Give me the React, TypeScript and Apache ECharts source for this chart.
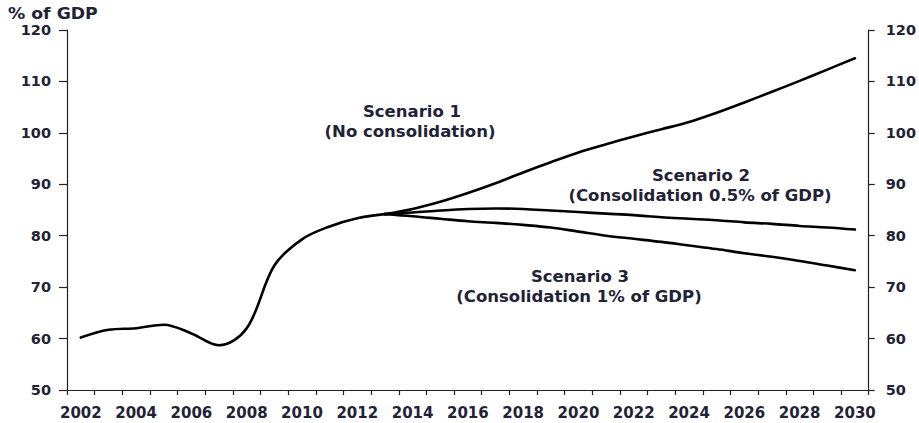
import React, { useEffect, useRef } from 'react';
import * as echarts from 'echarts';

const years = [
  '2002', '2003', '2004', '2005', '2006', '2007', '2008', '2009', '2010', '2011',
  '2012', '2013', '2014', '2015', '2016', '2017', '2018', '2019', '2020', '2021',
  '2022', '2023', '2024', '2025', '2026', '2027', '2028', '2029', '2030',
];

// 2002 - 2013
const historical = [60.2, 61.7, 62.0, 62.7, 61.0, 58.7, 62.0, 74.2, 79.3, 81.8, 83.4, 84.2];
// 2013 - 2030
const scenario1 = [84.2, 85.2, 86.6, 88.3, 90.2, 92.3, 94.3, 96.2, 97.8, 99.3, 100.7, 102.1, 103.9, 105.9, 108.0, 110.1, 112.3, 114.5];
const scenario2 = [84.2, 84.5, 84.9, 85.2, 85.3, 85.2, 84.9, 84.6, 84.3, 84.0, 83.6, 83.3, 83.0, 82.6, 82.3, 81.9, 81.6, 81.2];
const scenario3 = [84.2, 83.8, 83.3, 82.8, 82.5, 82.1, 81.6, 80.8, 80.0, 79.4, 78.8, 78.1, 77.4, 76.6, 75.9, 75.1, 74.2, 73.3];

const yMin = 50;
const yMax = 120;
const yStep = 10;

const annotations = [
  { text: 'Scenario 1', x: 412, y: 111 },
  { text: '(No consolidation)', x: 410, y: 131 },
  { text: 'Scenario 2', x: 701, y: 175 },
  { text: '(Consolidation 0.5% of GDP)', x: 700, y: 195 },
  { text: 'Scenario 3', x: 580, y: 276 },
  { text: '(Consolidation 1% of GDP)', x: 579, y: 296 },
];

const TEXT = '#222236';
const AXIS = '#222';
const FONT = '"DejaVu Sans", Verdana, sans-serif';

export default function App() {
  const ref = useRef<HTMLDivElement>(null);

  useEffect(() => {
    if (!ref.current) return;
    const chart = echarts.init(ref.current, undefined, { renderer: 'svg' });

    const histStart = years.indexOf('2002');
    const scenStart = years.indexOf('2013');
    const histData = years.map((_, i) =>
      i >= histStart && i - histStart < historical.length ? historical[i - histStart] : null
    );
    const pad = (arr: number[]) =>
      years.map((_, i) => (i >= scenStart && i - scenStart < arr.length ? arr[i - scenStart] : null));

    const lineSeries = (name: string, data: (number | null)[]) => ({
      name,
      type: 'line',
      data,
      smooth: 0.35,
      showSymbol: false,
      connectNulls: false,
      lineStyle: { color: '#000', width: 2.6, cap: 'round' },
      z: 3,
    });

    const yAxisBase = {
      type: 'value',
      min: yMin,
      max: yMax,
      interval: yStep,
      splitLine: { show: false },
      axisLine: { show: true, lineStyle: { color: AXIS, width: 1.2 } },
      axisLabel: {
        margin: 16,
        color: TEXT,
        fontSize: 14.5,
        fontWeight: 'bold',
        fontFamily: FONT,
      },
    };

    chart.setOption({
      animation: false,
      backgroundColor: '#fff',
      grid: { left: 67, right: 50, top: 30, bottom: 33, containLabel: false },
      xAxis: {
        type: 'category',
        data: years,
        boundaryGap: true,
        axisLine: { show: true, lineStyle: { color: AXIS, width: 1.2 } },
        axisTick: { show: true, interval: 0, length: 5, lineStyle: { color: AXIS, width: 1.2 } },
        axisLabel: {
          interval: 1,
          margin: 15,
          color: TEXT,
          fontSize: 15,
          fontWeight: 'bold',
          fontFamily: FONT,
        },
        splitLine: { show: false },
      },
      yAxis: [
        {
          ...yAxisBase,
          position: 'left',
          axisTick: { show: true, length: 8, lineStyle: { color: AXIS, width: 1.2 } },
        },
        {
          ...yAxisBase,
          position: 'right',
          axisTick: { show: true, length: 6, lineStyle: { color: AXIS, width: 1.2 } },
          axisLabel: { ...yAxisBase.axisLabel, margin: 17 },
        },
      ],
      series: [
        lineSeries('Historical', histData),
        lineSeries('Scenario 1', pad(scenario1)),
        lineSeries('Scenario 2', pad(scenario2)),
        lineSeries('Scenario 3', pad(scenario3)),
      ],
      graphic: [
        {
          type: 'text',
          x: 8,
          y: 14,
          scaleX: 1.15,
          style: {
            text: '% of GDP',
            fill: TEXT,
            font: `bold 15px ${FONT}`,
            align: 'left',
            verticalAlign: 'middle',
          },
        },
        ...annotations.map((a) => ({
          type: 'text',
          x: a.x,
          y: a.y,
          style: {
            text: a.text,
            fill: TEXT,
            font: `bold 16.5px ${FONT}`,
            align: 'center',
            verticalAlign: 'middle',
          },
        })),
      ],
    });

    return () => chart.dispose();
  }, []);

  return (
    <div
      ref={ref}
      style={{ position: 'fixed', left: 0, top: 0, width: 919, height: 423, background: '#fff' }}
    />
  );
}
